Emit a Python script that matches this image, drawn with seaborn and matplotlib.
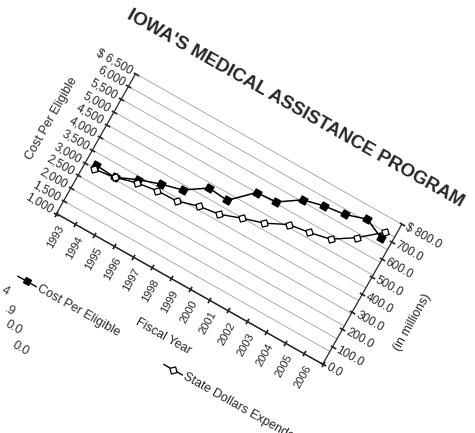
import matplotlib
matplotlib.use("Agg")
import matplotlib.pyplot as plt
import seaborn as sns
import pandas as pd
from matplotlib import ticker
from matplotlib.path import Path
from matplotlib.transforms import Affine2D
import mpl_toolkits.axisartist.floating_axes as floating_axes
from mpl_toolkits.axisartist.grid_finder import FixedLocator

years = [str(y) for y in range(1993, 2007)]
cost_per_eligible = [3110, 3060, 3390, 3640, 3830, 4330, 4270, 5000, 5050, 5560, 5740, 5830, 6070, 5740]
state_dollars = [285, 300, 330, 346, 349, 381, 396, 435, 468, 522, 538, 561, 631, 723]
cost_ticks = list(range(1000, 7000, 500))
dollar_ticks = list(range(0, 900, 100))

sns.set_theme(style="white")
plt.rcParams["font.family"] = ["Liberation Sans", "DejaVu Sans"]

ANGLE = -29.5          # the whole page was scanned at a tilt
W, H = 312, 164        # plot frame size in pixels
ORIGIN = (53, 219.5)   # frame's bottom-left corner, pixels from figure's bottom-left
N = len(years)
FS = 8.5

fig = plt.figure(figsize=(4.75, 4.33), dpi=100)


def tilted_axes(lo, hi, yticks, yfmt, xticks, xfmt):
    tr = Affine2D().translate(0, -lo).scale(W / N, H / (hi - lo)).rotate_deg(ANGLE)
    corners = tr.transform([(0, lo), (N, lo), (0, hi), (N, hi)])
    x0, y0 = corners.min(axis=0)
    x1, y1 = corners.max(axis=0)
    rect = [(ORIGIN[0] + x0) / 475, (ORIGIN[1] + y0) / 433,
            (x1 - x0) / 475, (y1 - y0) / 433]
    helper = floating_axes.GridHelperCurveLinear(
        tr, extremes=(0, N, lo, hi),
        grid_locator1=FixedLocator(xticks), tick_formatter1=xfmt,
        grid_locator2=FixedLocator(yticks), tick_formatter2=yfmt)
    ax = fig.add_axes(rect, axes_class=floating_axes.FloatingAxes, grid_helper=helper)
    ax.patch.set_alpha(0)
    for side in ["left", "right", "bottom", "top"]:
        ax.axis[side].major_ticklabels.set_fontsize(FS)
        ax.axis[side].label.set_fontsize(9)
        ax.axis[side].line.set_linewidth(0.9)
        # excel-style ticks that cross the axis line
        ax.axis[side].major_ticks._tickvert_path = Path([[-1, 0], [1, 0]])
        ax.axis[side].major_ticks.set_ticksize(2.2)
    return ax, ax.get_aux_axes(tr)


cost_fmt = ticker.FuncFormatter(lambda v, p: ("$ " if v == cost_ticks[-1] else "") + f"{v:,.0f}")
dollar_fmt = ticker.FuncFormatter(lambda v, p: ("$ " if v == dollar_ticks[-1] else "") + f"{v:.1f}")
year_fmt = ticker.FuncFormatter(lambda v, p: years[int(v)])
blank_fmt = ticker.FuncFormatter(lambda v, p: "")

ax_c, aux_c = tilted_axes(cost_ticks[0], cost_ticks[-1], cost_ticks, cost_fmt,
                          [i + 0.5 for i in range(N)], year_fmt)
ax_d, aux_d = tilted_axes(dollar_ticks[0], dollar_ticks[-1], dollar_ticks, dollar_fmt,
                          list(range(N + 1)), blank_fmt)

ax_c.axis["right"].set_visible(False)
ax_c.axis["top"].set_visible(False)
ax_c.axis["bottom"].major_ticks.set_visible(False)
ax_d.axis["left"].set_visible(False)
ax_d.axis["top"].set_visible(False)
ax_d.axis["bottom"].major_ticklabels.set_visible(False)
ax_d.axis["right"].major_ticklabels.set_visible(True)

# years stand upright relative to the tilted axis
yl = ax_c.axis["bottom"].major_ticklabels
yl.set_rotation(90)
yl.set_ha("right")
yl.set_va("center")
yl.set_fontsize(8)
yl.set_pad(3)

ax_c.axis["left"].label.set_text("Cost Per Eligible")
ax_c.axis["left"].label.set_pad(0)
ax_c.axis["bottom"].label.set_text("Fiscal Year")
ax_c.axis["bottom"].label.set_pad(26)
ax_d.axis["right"].label.set_text("(in millions)")
ax_d.axis["right"].label.set_visible(True)

aux_c.hlines(cost_ticks[1:], 0, N, colors="#a0a0a0", lw=0.6)

df = pd.DataFrame({
    "Fiscal Year": years,
    "pos": [i + 0.5 for i in range(N)],
    "Cost Per Eligible": cost_per_eligible,
    "State Dollars Expended": state_dollars,
})

square = (4, 0, 45 + ANGLE)
diamond = (4, 0, ANGLE)
sns.lineplot(data=df, x="pos", y="Cost Per Eligible", ax=aux_c, color="black", lw=1.1,
             marker=square, ms=7, mfc="black", mec="black", clip_on=False)
sns.lineplot(data=df, x="pos", y="State Dollars Expended", ax=aux_d, color="black", lw=1.0,
             marker=diamond, ms=6, mfc="white", mec="black", mew=0.9, clip_on=False)


def px(along, up):
    # pixel offsets inside the tilted frame -> cost-axis data units
    return along * N / W, cost_ticks[0] + up * (cost_ticks[-1] - cost_ticks[0]) / H


txt = dict(rotation=ANGLE, rotation_mode="anchor", va="center", fontsize=9)

aux_c.text(*px(160, 213), "IOWA'S MEDICAL ASSISTANCE PROGRAM", ha="center",
           fontweight="bold", **dict(txt, fontsize=13.5))

# legend entries sit under the fiscal year axis
for start, up, label, marker, face in [(-3, -75, "Cost Per Eligible", square, "black"),
                                       (171, -80, "State Dollars Expended", diamond, "white")]:
    xa, ya = px(start, up)
    xb, _ = px(start + 22, up)
    xm, _ = px(start + 11, up)
    aux_c.plot([xa, xb], [ya, ya], color="black", lw=1.0, clip_on=False)
    aux_c.plot([xm], [ya], marker=marker, ms=6, mfc=face, mec="black", mew=0.9,
               ls="none", clip_on=False)
    aux_c.text(*px(start + 24, up), label, ha="left", **txt)

# leftovers of a neighbouring table at the page edge
for along, up, s in [(-6.6, -94, "4"), (8, -110, ".9"), (19.5, -123, "0.0"), (36, -138, "0.0")]:
    aux_c.text(*px(along, up), s, ha="center", color="#333333", **txt)

fig.savefig("out.png", dpi=100)
